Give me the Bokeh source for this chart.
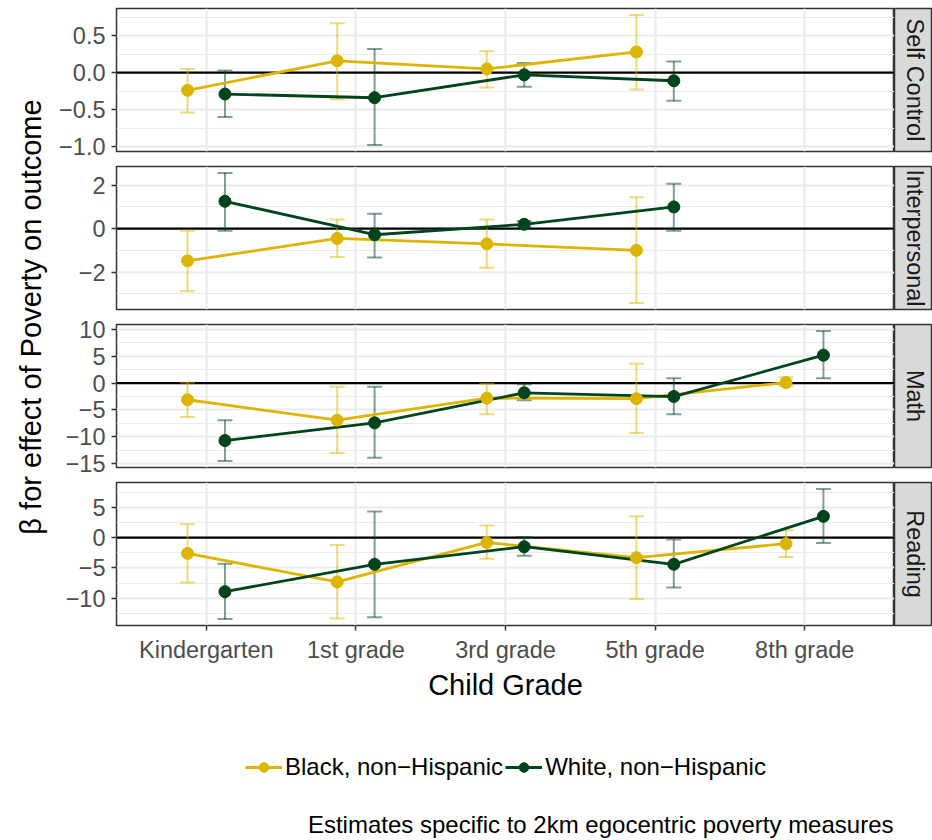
import math
from bokeh.plotting import figure
from bokeh.layouts import column, row
from bokeh.models import Span, FixedTicker, Legend, LegendItem, Range1d, ColumnDataSource
from bokeh.core.properties import value
from bokeh.embed import file_html
from bokeh.resources import INLINE

nan = float("nan")

# ---------------- data ----------------
grades = ["Kindergarten", "1st grade", "3rd grade", "5th grade", "8th grade"]
outcomes = ["Self Control", "Interpersonal", "Math", "Reading"]
group_labels = ["Black, non\u2212Hispanic", "White, non\u2212Hispanic"]
x_title = "Child Grade"
y_title = "\u03b2 for effect of Poverty on outcome"
caption = "Estimates specific to 2km egocentric poverty measures"

# Black, non-Hispanic
black_sc_est = [-0.24, 0.16, 0.05, 0.28, nan]
black_sc_lo = [-0.54, -0.36, -0.20, -0.23, nan]
black_sc_hi = [0.05, 0.67, 0.29, 0.78, nan]
black_ip_est = [-1.48, -0.45, -0.70, -1.00, nan]
black_ip_lo = [-2.88, -1.30, -1.80, -3.42, nan]
black_ip_hi = [-0.10, 0.42, 0.42, 1.45, nan]
black_math_est = [-3.1, -6.9, -2.8, -2.9, 0.1]
black_math_lo = [-6.3, -13.0, -5.8, -9.3, -0.6]
black_math_hi = [0.1, -0.7, -0.1, 3.6, 1.1]
black_read_est = [-2.6, -7.3, -0.8, -3.3, -1.0]
black_read_lo = [-7.4, -13.3, -3.5, -10.1, -3.2]
black_read_hi = [2.2, -1.2, 2.0, 3.5, 1.2]

# White, non-Hispanic
white_sc_est = [-0.29, -0.34, -0.03, -0.11, nan]
white_sc_lo = [-0.60, -0.98, -0.19, -0.38, nan]
white_sc_hi = [0.03, 0.32, 0.13, 0.15, nan]
white_ip_est = [1.26, -0.28, 0.20, 1.00, nan]
white_ip_lo = [-0.10, -1.33, 0.05, -0.10, nan]
white_ip_hi = [2.56, 0.68, 0.35, 2.06, nan]
white_math_est = [-10.7, -7.4, -1.8, -2.5, 5.2]
white_math_lo = [-14.5, -13.9, -3.2, -5.8, 0.9]
white_math_hi = [-6.9, -0.7, -0.2, 0.9, 9.7]
white_read_est = [-8.9, -4.4, -1.5, -4.4, 3.5]
white_read_lo = [-13.4, -13.1, -3.0, -8.2, -0.9]
white_read_hi = [-4.3, 4.3, 0.1, -0.3, 8.0]

# y tick values / labels per panel
sc_ticks = [-1.0, -0.5, 0.0, 0.5]
sc_tick_labels = ["\u22121.0", "\u22120.5", "0.0", "0.5"]
ip_ticks = [-2, 0, 2]
ip_tick_labels = ["\u22122", "0", "2"]
math_ticks = [-15, -10, -5, 0, 5, 10]
math_tick_labels = ["\u221215", "\u221210", "\u22125", "0", "5", "10"]
read_ticks = [-10, -5, 0, 5]
read_tick_labels = ["\u221210", "\u22125", "0", "5"]

panels = [
    (outcomes[0], (black_sc_est, black_sc_lo, black_sc_hi), (white_sc_est, white_sc_lo, white_sc_hi), sc_ticks, sc_tick_labels),
    (outcomes[1], (black_ip_est, black_ip_lo, black_ip_hi), (white_ip_est, white_ip_lo, white_ip_hi), ip_ticks, ip_tick_labels),
    (outcomes[2], (black_math_est, black_math_lo, black_math_hi), (white_math_est, white_math_lo, white_math_hi), math_ticks, math_tick_labels),
    (outcomes[3], (black_read_est, black_read_lo, black_read_hi), (white_read_est, white_read_lo, white_read_hi), read_ticks, read_tick_labels),
]

# ---------------- style ----------------
FONT = "Liberation Sans"
GOLD = "#DDB500"
GREEN = "#00441B"
colors = [GOLD, GREEN]
dodge = [-0.125, 0.125]
cap_half = 0.05
FRAME_W, FRAME_H = 778, 143
LABEL_W = 52
LEFT_B = 64
# (top, bottom) border of each panel figure
borders = [(8, 9), (6, 7), (8, 9), (6, 80)]
STRIP_W = 37
TOTAL_W = 932
SMALL = "23.5px"
LEG_FONT = "24px"
BIG = "29px"


def isnum(v):
    return not (isinstance(v, float) and math.isnan(v))


def make_panel(name, black, white, ticks, tick_labels, last, top, bottom):
    allv = [v for s in (black, white) for arr in s[1:] for v in arr if isnum(v)]
    lo, hi = min(allv), max(allv)
    pad = 0.05 * (hi - lo)
    p = figure(frame_width=FRAME_W, frame_height=FRAME_H,
               min_border_left=LEFT_B, min_border_right=0, min_border_top=top,
               min_border_bottom=bottom,
               x_range=Range1d(0.4, 5.6), y_range=Range1d(lo - pad, hi + pad),
               toolbar_location=None, output_backend="svg",
               background_fill_color="white", border_fill_color="white")
    p.outline_line_color = "#333333"
    p.outline_line_width = 1.5

    step = ticks[1] - ticks[0]
    minor = [t + step / 2 for t in [ticks[0] - step] + list(ticks)]
    yt = FixedTicker(ticks=list(ticks), minor_ticks=minor)
    p.yaxis.ticker = yt
    p.ygrid.ticker = yt
    p.yaxis.major_label_overrides = {float(t): l for t, l in zip(ticks, tick_labels)}
    p.ygrid.grid_line_color = "#EBEBEB"
    p.ygrid.grid_line_width = 2.2
    p.ygrid.minor_grid_line_color = "#EBEBEB"
    p.ygrid.minor_grid_line_width = 1.1
    xt = FixedTicker(ticks=list(range(1, len(grades) + 1)))
    p.xaxis.ticker = xt
    p.xgrid.ticker = xt
    p.xgrid.grid_line_color = "#EBEBEB"
    p.xgrid.grid_line_width = 2.2
    p.xaxis.major_label_overrides = {i + 1: g for i, g in enumerate(grades)}

    for ax in p.xaxis + p.yaxis:
        ax.axis_line_color = None
        ax.major_tick_line_color = "#333333"
        ax.major_tick_line_width = 1.5
        ax.major_tick_out = 5
        ax.major_tick_in = 0
        ax.minor_tick_line_color = None
        ax.major_label_text_font = FONT
        ax.major_label_text_font_size = SMALL
        ax.major_label_text_color = "#4D4D4D"
        ax.major_label_standoff = 6
    if last:
        p.xaxis.axis_label = x_title
        p.xaxis.axis_label_text_font = FONT
        p.xaxis.axis_label_text_font_size = BIG
        p.xaxis.axis_label_text_font_style = "normal"
        p.xaxis.axis_label_text_color = "black"
        p.xaxis.axis_label_standoff = 3
    else:
        p.xaxis.visible = False

    zero = Span(location=0, dimension="width", line_color="black", line_width=2.2, level="underlay")
    p.add_layout(zero)

    series = [black, white]
    # error bars
    for (est, lo_, hi_), col, dx in zip(series, colors, dodge):
        idx = [i for i in range(len(grades)) if isnum(est[i])]
        xs = [i + 1 + dx for i in idx]
        l = [lo_[i] for i in idx]
        h = [hi_[i] for i in idx]
        p.segment(x0=xs, y0=l, x1=xs, y1=h, line_color=col, line_alpha=0.5, line_width=2)
        p.segment(x0=[x - cap_half for x in xs], y0=l, x1=[x + cap_half for x in xs], y1=l,
                  line_color=col, line_alpha=0.5, line_width=2)
        p.segment(x0=[x - cap_half for x in xs], y0=h, x1=[x + cap_half for x in xs], y1=h,
                  line_color=col, line_alpha=0.5, line_width=2)
    # lines
    for (est, lo_, hi_), col, dx in zip(series, colors, dodge):
        idx = [i for i in range(len(grades)) if isnum(est[i])]
        p.line([i + 1 + dx for i in idx], [est[i] for i in idx], line_color=col, line_width=2.8)
    # points
    for (est, lo_, hi_), col, dx in zip(series, colors, dodge):
        idx = [i for i in range(len(grades)) if isnum(est[i])]
        p.scatter([i + 1 + dx for i in idx], [est[i] for i in idx], size=12,
                  fill_color=col, line_color=col)

    # facet strip
    s = figure(frame_width=STRIP_W, frame_height=FRAME_H,
               min_border_left=0, min_border_right=1, min_border_top=top,
               min_border_bottom=bottom,
               x_range=Range1d(0, 1), y_range=Range1d(0, 1),
               x_axis_location=None, y_axis_location=None,
               toolbar_location=None, output_backend="svg",
               background_fill_color="#D9D9D9", border_fill_color="white")
    s.grid.visible = False
    s.outline_line_color = "#333333"
    s.outline_line_width = 1.5
    s.text(x=[0.55], y=[0.5], text=[name], angle=-math.pi / 2,
           text_align="center", text_baseline="middle",
           text_font=value(FONT), text_font_size=SMALL, text_color="#1A1A1A")
    return row(p, s)


rows = []
for k, (name, b, w, t, tl) in enumerate(panels):
    top, bottom = borders[k]
    rows.append(make_panel(name, b, w, t, tl, k == len(panels) - 1, top, bottom))

H = sum(t + FRAME_H + b for t, b in borders)
first_top = borders[0][0]
last_bottom_frame = H - borders[-1][1]
panels_mid = (first_top + last_bottom_frame) / 2
lab = figure(width=LABEL_W, height=H, min_border=0,
             x_range=Range1d(0, LABEL_W), y_range=Range1d(0, H),
             x_axis_location=None, y_axis_location=None,
             toolbar_location=None, output_backend="svg")
lab.grid.visible = False
lab.outline_line_color = None
lab.text(x=[30], y=[H - panels_mid], text=[y_title],
         angle=math.pi / 2, text_align="center", text_baseline="middle",
         text_font=value(FONT), text_font_size=BIG, text_color="black")

LEG_H = 840 - H
leg = figure(width=TOTAL_W, height=LEG_H, min_border=0,
             x_range=Range1d(0, TOTAL_W), y_range=Range1d(0, LEG_H),
             x_axis_location=None, y_axis_location=None,
             toolbar_location=None, output_backend="svg")
leg.grid.visible = False
leg.outline_line_color = None
items = []
for lbl, col in zip(group_labels, colors):
    src = ColumnDataSource(data=dict(x=[-1000.0], y=[-1000.0]))
    lr = leg.line("x", "y", source=src, line_color=col, line_width=2.8)
    sr = leg.scatter("x", "y", source=src, size=12, fill_color=col, line_color=col)
    items.append(LegendItem(label=lbl, renderers=[lr, sr]))
legend = Legend(items=items, orientation="horizontal", location=(245, 59),
                glyph_width=37, glyph_height=24, label_standoff=3, spacing=2,
                padding=0, margin=0, border_line_color=None, background_fill_alpha=0,
                label_text_font=FONT, label_text_font_size=LEG_FONT, label_text_color="black")
leg.add_layout(legend, "center")
leg.text(x=[893], y=[16], text=[caption], text_align="right", text_baseline="alphabetic",
         text_font=value(FONT), text_font_size=LEG_FONT, text_color="black")

layout = column(row(lab, column(*rows)), leg)

open("out.html", "w").write(file_html(layout, INLINE))
